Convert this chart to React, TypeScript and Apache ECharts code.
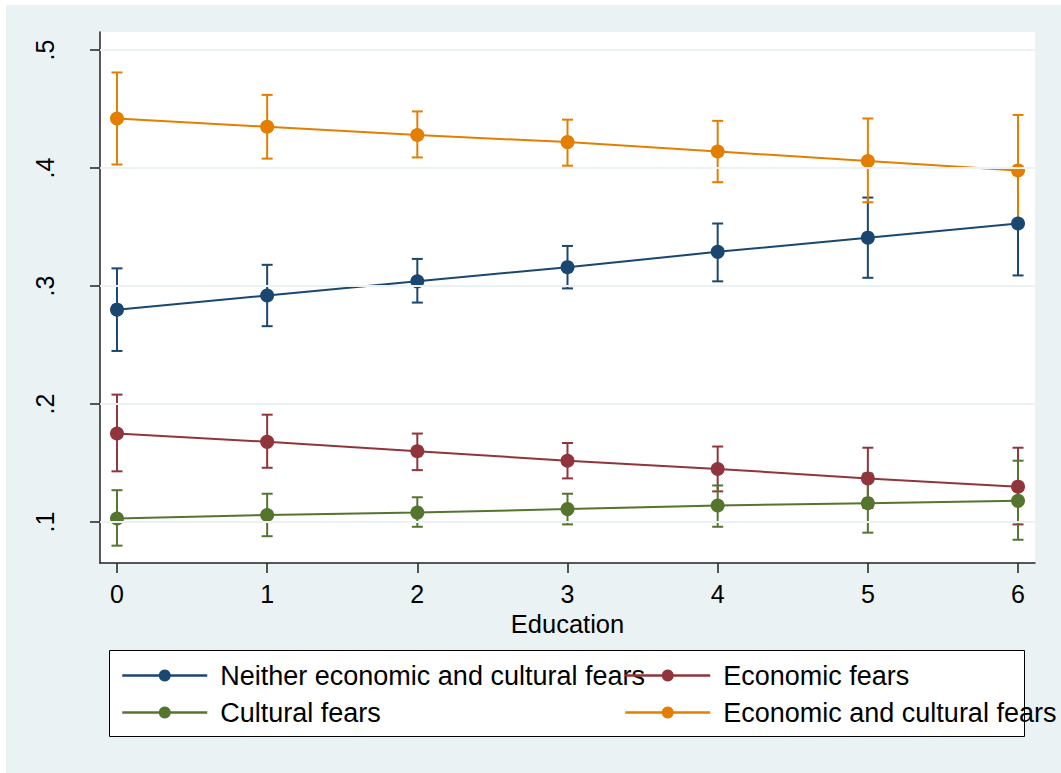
import React, { useEffect, useRef } from "react";
import * as echarts from "echarts";

const educ = [0, 1, 2, 3, 4, 5, 6];
const xTicks = [0, 1, 2, 3, 4, 5, 6];
const yTicks = [0.1, 0.2, 0.3, 0.4, 0.5];

const neitherMean = [0.28, 0.292, 0.304, 0.316, 0.329, 0.341, 0.353];
const neitherLo = [0.245, 0.266, 0.286, 0.298, 0.304, 0.307, 0.309];
const neitherHi = [0.315, 0.318, 0.323, 0.334, 0.353, 0.375, 0.398];

const econMean = [0.175, 0.168, 0.16, 0.152, 0.145, 0.137, 0.13];
const econLo = [0.143, 0.146, 0.144, 0.137, 0.126, 0.112, 0.098];
const econHi = [0.208, 0.191, 0.175, 0.167, 0.164, 0.163, 0.163];

const cultMean = [0.103, 0.106, 0.108, 0.111, 0.114, 0.116, 0.118];
const cultLo = [0.08, 0.088, 0.096, 0.098, 0.096, 0.091, 0.085];
const cultHi = [0.127, 0.124, 0.121, 0.124, 0.131, 0.141, 0.152];

const bothMean = [0.442, 0.435, 0.428, 0.422, 0.414, 0.406, 0.398];
const bothLo = [0.403, 0.408, 0.409, 0.402, 0.388, 0.371, 0.351];
const bothHi = [0.481, 0.462, 0.448, 0.441, 0.44, 0.442, 0.445];

const names = [
  "Neither economic and cultural fears",
  "Economic fears",
  "Cultural fears",
  "Economic and cultural fears",
];
const colors = ["#1A476F", "#90353B", "#55752F", "#E37E00"];

const FONT = '"Liberation Sans", Arial, sans-serif';

export default function App() {
  const ref = useRef<HTMLDivElement>(null);
  useEffect(() => {
    if (!ref.current) return;
    const chart = echarts.init(ref.current, undefined, { renderer: "svg" });
    const means = [neitherMean, econMean, cultMean, bothMean];
    const los = [neitherLo, econLo, cultLo, bothLo];
    const his = [neitherHi, econHi, cultHi, bothHi];

    const errSeries = means.map((_, i) => ({
      type: "custom",
      name: names[i] + " CI",
      z: 3,
      silent: true,
      data: educ.map((x, k) => [x, los[i][k], his[i][k]]),
      encode: { x: 0, y: [1, 2] },
      renderItem: (params: any, api: any) => {
        const x = api.value(0);
        const pLo = api.coord([x, api.value(1)]);
        const pHi = api.coord([x, api.value(2)]);
        const hw = 5.5;
        const st = { stroke: colors[i], lineWidth: 2 };
        return {
          type: "group",
          children: [
            { type: "line", shape: { x1: pLo[0], y1: pLo[1], x2: pHi[0], y2: pHi[1] }, style: st },
            { type: "line", shape: { x1: pLo[0] - hw, y1: pLo[1], x2: pLo[0] + hw, y2: pLo[1] }, style: st },
            { type: "line", shape: { x1: pHi[0] - hw, y1: pHi[1], x2: pHi[0] + hw, y2: pHi[1] }, style: st },
          ],
        };
      },
    }));

    const lineSeries = means.map((m, i) => ({
      type: "line",
      name: names[i],
      z: 4,
      data: educ.map((x, k) => [x, m[k]]),
      symbol: "circle",
      symbolSize: 14,
      showSymbol: true,
      lineStyle: { color: colors[i], width: 2 },
      itemStyle: { color: colors[i] },
      silent: true,
    }));

    const gridSeries = {
      type: "line",
      name: "grid",
      z: 1,
      data: [],
      silent: true,
      markLine: {
        silent: true,
        symbol: ["none", "none"],
        label: { show: false },
        lineStyle: { color: "#EAF2F3", width: 2, type: "solid" },
        data: yTicks.map((v) => ({ yAxis: v })),
      },
    };

    const legendPos = [
      { left: 115, top: 657 },
      { left: 618, top: 657 },
      { left: 115, top: 694 },
      { left: 618, top: 694 },
    ];

    const legends = names.map((n, i) => ({
      data: [n],
      left: legendPos[i].left,
      top: legendPos[i].top,
      padding: 0,
      itemWidth: 85,
      itemHeight: 15,
      selectedMode: false,
      lineStyle: { width: 2.5 },
      textStyle: { fontSize: 27, color: "#000", fontFamily: FONT, padding: [0, 0, 0, 8] },
    }));

    chart.setOption({
      animation: false,
      backgroundColor: "#EAF2F3",
      textStyle: { fontFamily: FONT },
      grid: {
        left: 94,
        top: 27,
        right: 26,
        bottom: 210,
        show: true,
        backgroundColor: "#ffffff",
        borderWidth: 0,
      },
      graphic: [
        {
          type: "rect",
          left: 103,
          top: 645,
          shape: { width: 915, height: 86 },
          style: { fill: "#ffffff", stroke: "#000", lineWidth: 1 },
          z: 0,
        },
      ],
      legend: legends,
      xAxis: {
        type: "value",
        min: -0.113,
        max: 6.113,
        name: "Education",
        nameLocation: "middle",
        nameGap: 45,
        nameTextStyle: { fontSize: 25.5, color: "#000", fontFamily: FONT },
        axisLine: { show: true, onZero: false, lineStyle: { color: "#222", width: 1.5 } },
        axisTick: { show: true, length: 10, customValues: xTicks, lineStyle: { color: "#222", width: 1.5 } },
        axisLabel: { customValues: xTicks, fontSize: 25, color: "#000", margin: 18, fontFamily: FONT },
        splitLine: { show: false },
      },
      yAxis: {
        type: "value",
        min: 0.0653,
        max: 0.5153,
        axisLine: { show: true, onZero: false, lineStyle: { color: "#222", width: 1.5 } },
        axisTick: { show: true, length: 10, customValues: yTicks, lineStyle: { color: "#222", width: 1.5 } },
        axisLabel: {
          customValues: yTicks,
          rotate: 90,
          fontSize: 25,
          color: "#000",
          margin: 43,
          fontFamily: FONT,
          formatter: (v: number) => "." + Math.round(v * 10),
        },
        splitLine: { show: false },
      },
      series: [gridSeries, ...errSeries, ...lineSeries],
    });
    return () => chart.dispose();
  }, []);
  return (
    <div
      ref={ref}
      style={{ position: "absolute", left: 6, top: 5, width: 1055, height: 768 }}
    />
  );
}
